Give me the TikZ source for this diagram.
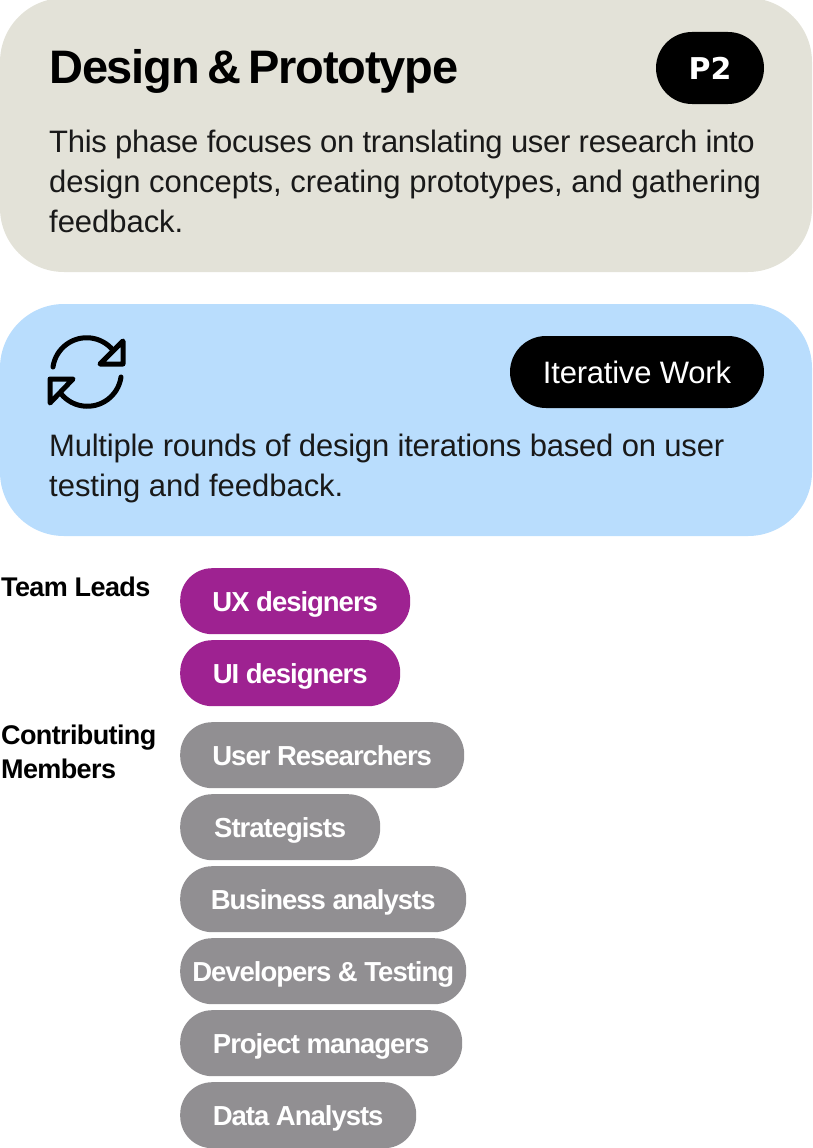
\documentclass[tikz,border=0pt]{standalone}
\usepackage{fontspec}
\setmainfont{Liberation Sans}
\newfontfamily\tagfont{DejaVu Sans}
\newfontfamily\titlefont[WordSpace=0.6,LetterSpace=-2.5]{Liberation Sans}
\usetikzlibrary{positioning}
\definecolor{phasegrey}{HTML}{E3E2D8}
\definecolor{iterblue}{HTML}{B9DDFD}
\definecolor{leadpurple}{HTML}{9E2291}
\definecolor{membergrey}{HTML}{918F92}
\newcommand{\tracked}[1]{\addfontfeature{LetterSpace=#1}}
\tikzset{
  >=latex,
  x=1pt,y=-1pt,
  panel/.style={rounded corners=64pt},
  blacktag/.style={fill=black,text=white,rounded corners=36pt,inner sep=0pt,minimum height=72pt,text height=23pt,text depth=0pt},
  body/.style={anchor=base west,font=\fontsize{31}{40}\selectfont\tracked{#1},inner sep=0pt,text=black!90},
  rolehead/.style={anchor=base west,font=\fontsize{27}{34}\selectfont\bfseries\tracked{-2.3},inner sep=0pt,align=left},
  rolechip/.style={anchor=north west,text=white,rounded corners=32pt,minimum height=66pt,inner sep=0pt,text height=21pt,text depth=0pt,font=\fontsize{27.5}{30}\selectfont\bfseries\tracked{-3.7}},
  leadchip/.style={rolechip,fill=leadpurple},
  memberchip/.style={rolechip,fill=membergrey},
  icon/.style={line width=5pt,line cap=round,line join=round},
}
\begin{document}
\begin{tikzpicture}
  \useasboundingbox (0,0) rectangle (812,1148);
  % panels
  \fill[phasegrey,panel] (0,-2) rectangle (812,272);
  \fill[iterblue,panel] (0,304) rectangle (812,536);
  % top panel
  \node[anchor=base west,inner sep=0pt,font=\fontsize{47}{50}\selectfont\titlefont\bfseries] (title) at (49,84) {Design \& Prototype};
  \node[blacktag,minimum width=108pt,font=\fontsize{30}{34}\selectfont\tagfont\bfseries] (phase) at (710,68) {P2};
  \node[body=-0.95] (line1) at (49,152) {This phase focuses on translating user research into};
  \node[body=0] (line2) at (49,192) {design concepts, creating prototypes, and gathering};
  \node[body=-0.15] (line3) at (49,232) {feedback.};
  % blue panel
  \node[blacktag,minimum width=254pt,font=\fontsize{31}{34}\selectfont\tracked{-0.7}] (iter) at (637,372) {Iterative Work};
  \draw[icon] (53,367) arc (172:40:34 and -34);
  \draw[icon] (121,377) arc (-8:-140:34 and -34);
  \draw[icon] (123,341) -- (123,364) -- (100,364) -- cycle;
  \draw[icon] (50,403) -- (50,379) -- (73,379) -- cycle;
  \node[body=-0.7] (line4) at (49,456) {Multiple rounds of design iterations based on user};
  \node[body=-0.1] (line5) at (49,496) {testing and feedback.};
  % teams
  \node[rolehead] (leads) at (1,596) {Team Leads};
  \node[rolehead] (members1) at (1,744) {Contributing};
  \node[rolehead] (members2) at (1,778) {Members};
  \node[leadchip,minimum width=230pt] (ux) at (180,568) {UX designers};
  \node[leadchip,minimum width=220pt] (ui) at (180,640) {UI designers};
  \node[memberchip,minimum width=284pt] (research) at (180,722) {User Researchers};
  \node[memberchip,minimum width=200pt] (strategy) at (180,794) {Strategists};
  \node[memberchip,minimum width=286pt] (business) at (180,866) {Business analysts};
  \node[memberchip,minimum width=286pt] (devs) at (180,938) {Developers \& Testing};
  \node[memberchip,minimum width=282pt] (pm) at (180,1010) {Project managers};
  \node[memberchip,minimum width=236pt] (data) at (180,1082) {Data Analysts};
\end{tikzpicture}
\end{document}
